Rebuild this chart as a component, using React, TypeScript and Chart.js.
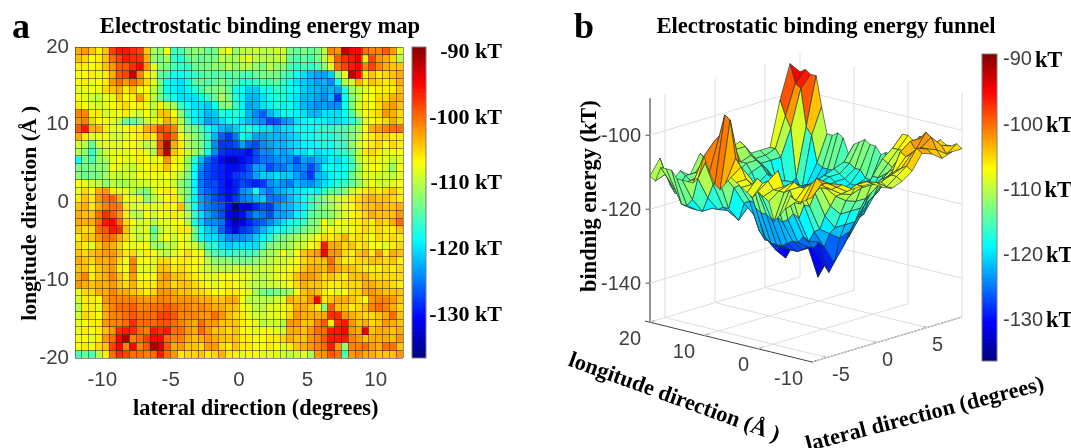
import React, { useEffect, useRef } from "react";
import { Chart, registerables, ScatterController } from "chart.js";

Chart.register(...registerables);

// ---------- data ----------
// Binding energy magnitude (-kT). Rows run from longitude +20 down to -20, columns from lateral -12 to +12.
const energyMagnitude: number[][] = [
  [103,102,104,106,104,98,96,96,97,98,104,111, 112,107,116,115,113,112,112,114,113,109,107,112, 110,110,109,110,110,109,109,113,114,113,114,113, 110,101,102,92,95,95,100,101,101,99,102,108],
  [104,105,107,106,104,100,98,96,97,97,103,112, 113,111,116,117,114,113,114,113,113,110,111,111, 109,108,110,110,110,110,109,114,115,114,115,113, 110,105,99,97,96,94,106,98,102,103,105,110],
  [106,106,107,106,104,102,99,99,97,95,102,108, 112,113,115,116,116,114,113,113,112,112,110,112, 110,110,112,113,110,112,112,115,116,115,116,115, 112,108,100,98,96,95,101,98,101,103,104,104],
  [107,107,106,108,106,103,99,98,92,101,106,108, 114,115,118,118,117,116,115,114,115,114,115,114, 115,115,114,113,113,113,115,116,118,120,122,123, 123,121,112,108,92,95,106,104,106,105,104,103],
  [107,106,108,107,106,102,100,102,100,102,105,108, 113,118,119,120,118,115,114,115,114,113,114,115, 117,117,116,115,115,114,116,118,120,121,122,123, 122,124,118,110,109,103,106,104,105,106,105,103],
  [108,108,107,108,105,104,103,106,104,107,107,110, 113,118,119,120,119,117,115,113,113,112,114,118, 118,121,121,118,118,116,117,118,119,121,122,122, 123,122,123,117,112,110,108,107,106,106,106,104],
  [107,108,109,110,108,108,104,107,106,102,106,110, 113,116,118,120,120,120,118,116,114,111,113,117, 119,122,122,120,118,117,117,119,120,122,122,123, 124,122,128,118,113,110,107,107,105,105,103,103],
  [106,107,108,109,108,107,106,105,107,106,108,110, 106,110,111,116,118,120,120,121,118,113,112,116, 119,123,122,120,119,117,119,118,120,122,123,124, 123,124,124,118,113,109,106,107,105,103,102,104],
  [101,101,106,106,109,108,107,106,108,109,107,110, 104,104,107,112,117,119,120,122,121,117,118,117, 118,122,124,126,122,120,118,118,119,120,122,122, 120,120,120,118,115,110,107,106,105,102,103,105],
  [102,101,105,107,107,108,110,114,114,112,109,108, 106,103,105,110,115,119,120,123,122,120,118,118, 120,122,123,124,127,127,124,123,120,119,118,119, 119,120,120,119,117,114,108,107,106,105,103,105],
  [99,96,103,103,106,108,108,107,106,106,103,102, 98,99,101,109,112,113,115,118,120,122,123,121, 118,117,119,120,120,122,120,120,118,118,118,117, 116,116,115,115,113,111,107,103,102,101,100,100],
  [103,106,108,108,107,109,109,108,107,106,105,106, 100,97,100,107,110,112,114,117,122,126,128,125, 118,120,123,123,122,122,122,121,120,118,118,117, 117,117,116,115,113,110,107,106,105,105,106,106],
  [109,110,114,109,108,108,108,107,107,108,110,109, 99,91,103,106,110,112,113,117,124,128,128,127, 123,126,127,124,123,122,122,121,120,119,119,118, 117,118,116,116,112,109,107,106,105,107,105,106],
  [110,112,116,112,109,108,108,108,107,106,108,110, 100,92,104,106,109,111,113,118,124,128,129,129, 129,130,127,124,124,122,123,122,120,120,118,120, 119,119,117,116,114,110,106,105,106,108,107,107],
  [118,113,115,112,111,108,107,108,108,106,107,108, 107,102,106,108,112,117,122,126,128,130,133,133, 130,129,127,125,125,124,123,124,127,123,124,122, 121,119,120,118,116,110,108,106,108,108,110,108],
  [113,113,113,112,112,107,108,109,110,108,107,106, 106,104,107,108,112,118,124,127,128,129,130,130, 129,127,123,123,127,125,125,123,125,124,127,124, 119,118,119,118,116,112,108,107,107,109,112,107],
  [112,114,113,113,111,109,110,109,109,107,108,107, 108,107,108,110,113,118,125,127,128,129,130,128, 127,126,123,121,121,120,121,121,123,125,128,122, 121,119,118,118,114,111,108,108,109,109,110,108],
  [107,108,109,110,112,110,111,111,110,109,109,108, 108,108,109,112,114,119,125,127,127,129,131,129, 127,128,129,128,124,123,124,125,122,123,124,122, 120,119,117,116,114,112,109,107,109,109,108,107],
  [108,105,107,103,102,106,108,108,110,112,113,109, 107,106,107,111,113,118,124,126,127,129,130,129, 124,123,118,123,125,123,122,121,120,119,118,119, 116,114,114,112,109,108,106,105,106,105,104,106],
  [106,104,106,102,100,99,103,107,108,108,112,110, 108,107,106,109,114,119,123,125,127,128,130,128, 125,124,122,121,125,125,124,122,120,118,116,114, 112,110,109,108,106,105,104,103,104,104,105,106],
  [104,103,106,103,101,100,101,106,109,108,108,108, 108,106,107,104,112,118,123,125,126,127,130,136, 131,132,129,127,128,124,122,122,120,119,116,114, 112,111,109,108,107,105,104,104,103,104,104,103],
  [103,104,104,100,97,99,102,106,110,110,107,109, 107,108,106,108,110,116,120,123,125,127,131,132, 130,127,124,125,127,123,123,122,119,118,114,113, 113,112,110,108,107,106,105,103,104,104,104,102],
  [103,103,103,100,96,95,100,105,107,109,108,110, 108,108,107,107,110,117,121,124,124,125,130,134, 131,129,127,126,124,122,120,118,117,116,113,112, 107,110,107,108,106,106,105,106,104,105,103,100],
  [104,105,105,100,99,96,97,104,109,109,108,115, 110,108,108,106,106,113,118,121,122,126,129,131, 128,127,125,122,120,118,118,116,115,113,112,111, 108,107,108,108,107,106,105,106,105,106,106,104],
  [106,104,104,102,100,100,103,105,108,110,108,113, 109,107,109,107,108,113,118,120,120,122,124,124, 124,123,121,119,117,114,113,112,111,110,109,107, 105,106,105,103,106,105,106,107,105,106,105,106],
  [105,106,108,104,102,103,105,107,108,107,107,111, 112,110,110,107,108,109,112,116,117,120,121,120, 120,120,120,116,113,112,112,111,109,109,107,106, 96,103,103,105,104,106,105,107,107,108,106,105],
  [104,105,104,103,102,102,104,106,105,108,106,107, 109,110,108,107,105,107,107,113,115,116,117,116, 115,116,115,112,111,110,107,110,107,104,103,102, 95,102,102,105,106,104,103,106,102,106,103,104],
  [103,104,105,103,103,102,105,107,101,107,107,108, 105,105,107,106,106,107,107,110,112,112,112,113, 113,113,112,111,110,109,109,108,107,105,104,104, 104,100,104,106,106,105,105,104,104,105,104,106],
  [104,104,106,104,103,102,106,107,101,108,108,108, 104,104,106,105,106,107,108,109,110,110,110,109, 109,109,110,109,109,108,108,107,106,104,103,103, 104,101,103,104,104,105,106,106,106,105,106,105],
  [103,101,106,104,103,101,104,106,102,107,107,107, 103,102,104,104,105,106,107,108,108,107,107,107, 108,108,109,110,109,108,107,106,104,102,102,103, 105,104,105,106,104,104,103,105,105,105,105,105],
  [102,103,104,103,103,102,104,105,103,106,106,106, 103,103,105,104,104,105,106,107,108,107,106,107, 108,109,110,110,109,109,108,107,105,103,104,104, 105,106,106,105,105,105,103,103,104,104,105,106],
  [108,105,105,103,103,101,103,103,104,105,106,105, 102,102,103,104,104,105,105,106,107,107,106,106, 107,108,111,113,114,113,112,111,107,104,103,104, 106,107,108,107,105,105,103,102,103,104,104,104],
  [109,106,106,107,102,101,101,101,101,102,102,102, 101,101,102,102,102,102,103,103,104,104,103,103, 107,110,110,110,110,109,108,103,104,104,102,95, 106,104,103,103,104,105,107,102,101,101,102,104],
  [110,106,106,108,103,101,100,100,99,101,101,100, 100,99,100,101,101,102,101,102,103,103,104,104, 107,108,110,110,108,108,107,106,103,103,104,106, 112,99,104,104,106,105,104,101,100,101,103,105],
  [109,105,106,107,103,101,101,100,99,100,100,100, 98,98,99,101,101,101,102,102,100,102,104,105, 106,108,109,109,108,108,107,105,102,103,103,103, 103,97,97,102,103,104,105,105,104,103,100,104],
  [108,107,106,106,102,101,101,100,97,100,100,100, 99,99,100,101,102,103,100,102,102,104,104,104, 106,107,108,110,109,109,110,102,102,104,104,101, 99,106,97,96,102,104,103,105,104,102,103,104],
  [108,106,107,106,104,102,97,96,97,100,101,96, 97,96,100,100,102,103,100,102,104,104,105,104, 107,107,108,107,107,108,109,103,103,104,102,100, 100,96,96,95,102,103,94,104,103,103,104,103],
  [107,107,108,106,102,100,95,91,101,100,98,95, 95,100,101,101,103,104,103,102,103,104,104,104, 106,106,107,107,106,106,105,103,104,104,102,101, 99,96,96,96,101,102,104,103,103,103,104,102],
  [107,106,107,105,104,98,95,101,95,101,99,91, 93,99,103,102,104,104,105,102,102,105,106,104, 106,106,107,107,106,107,108,106,104,103,102,101, 100,96,102,112,101,101,100,102,103,100,100,104],
  [115,114,115,110,106,100,97,98,100,100,101,100, 96,100,102,106,105,105,104,106,105,103,106,106, 108,107,107,108,108,108,109,110,109,108,111,102, 102,99,100,115,102,101,103,103,104,104,104,102],
];
const lateralTicks = [-10, -5, 0, 5, 10];
const longitudeTicks = [-20, -10, 0, 10, 20];
const colorbarTicks = [-90, -100, -110, -120, -130];
const funnelLongitudeTicks = [20, 10, 0, -10];
const funnelLateralTicks = [-5, 0, 5];
const funnelEnergyTicks = [-100, -120, -140];

const TITLE_A = "Electrostatic binding energy map";
const TITLE_B = "Electrostatic binding energy funnel";
const NB = "\u00a0";

// ---------- styling ----------
const SERIF = '"Liberation Serif"';
const SANS = '"Liberation Sans"';
const INK = "#3f3f3f";
const CM_MIN = -136.4;
const CM_MAX = -89;

function jet(value: number): string {
  const t = Math.min(1, Math.max(0, (value - CM_MIN) / (CM_MAX - CM_MIN)));
  const ch = (c: number) => Math.round(255 * Math.min(1, Math.max(0, 1.5 - Math.abs(4 * t - c))));
  return `rgb(${ch(3)},${ch(2)},${ch(1)})`;
}

const NC = 48;
const energyAt = (r: number, c: number) => -energyMagnitude[r][c];

// ---------- panel a cells ----------
const lateralBins = Array.from({ length: NC }, (_, c) => String(-12 + 0.5 * c));
const mapDatasets = energyMagnitude.map((row, r) => ({
  xAxisID: "xCat",
  yAxisID: "y",
  grouped: false,
  barPercentage: 1,
  categoryPercentage: 1,
  borderWidth: 0,
  data: row.map(() => [19 - r, 20 - r]),
  backgroundColor: row.map((_, c) => jet(energyAt(r, c))),
}));

// ---------- panel b projection (scene units are page units) ----------
const LAT_MIN = -6.5, LAT_MAX = 8.5, LON_MIN = -10, LON_MAX = 20, Z_FLOOR = -150.5, Z_TOP = -90;
const FIRST_COL = 11, COL_STEP = 2, N_LAT = 15, N_LON = 30;
function project(lat: number, lon: number, z: number) {
  const u = (lat - LAT_MIN) / (LAT_MAX - LAT_MIN);
  const v = (LON_MAX - lon) / (LON_MAX - LON_MIN);
  return { x: 650 + 150 * u + 162 * v, y: 322 - 45 * u + 40 * v - (z - Z_FLOOR) * 3.7 };
}
const meshEnergy = (i: number, j: number) => energyAt(i, FIRST_COL + j * COL_STEP);
const surfacePoints: { x: number; y: number }[] = [];
for (let i = 0; i <= N_LON; i++) {
  for (let j = 0; j <= N_LAT; j++) {
    surfacePoints.push(project(-12 + 0.5 * (FIRST_COL + j * COL_STEP), LON_MAX - i, meshEnergy(i, j)));
  }
}

class SurfaceController extends (ScatterController as any) {
  static id = "surface";
  static defaults = { dataElementType: "point", datasetElementType: false, showLine: false };
  draw() {
    const self = this as any;
    const ctx: CanvasRenderingContext2D = self.chart.ctx;
    const pts = self.getMeta().data;
    const W = N_LAT + 1;
    ctx.save();
    ctx.lineJoin = "round";
    ctx.lineWidth = 0.8;
    ctx.strokeStyle = "rgba(35,50,50,0.8)";
    // painter's order: far corner (high longitude, high lateral) first
    for (let i = 0; i < N_LON; i++) {
      for (let j = N_LAT - 1; j >= 0; j--) {
        const a = pts[i * W + j], b = pts[i * W + j + 1], d = pts[(i + 1) * W + j + 1], e = pts[(i + 1) * W + j];
        const mean = (meshEnergy(i, j) + meshEnergy(i, j + 1) + meshEnergy(i + 1, j) + meshEnergy(i + 1, j + 1)) / 4;
        ctx.beginPath();
        ctx.moveTo(a.x, a.y);
        ctx.lineTo(b.x, b.y);
        ctx.lineTo(d.x, d.y);
        ctx.lineTo(e.x, e.y);
        ctx.closePath();
        ctx.fillStyle = jet(mean);
        ctx.fill();
        ctx.stroke();
      }
    }
    ctx.restore();
  }
}
Chart.register(SurfaceController as any);

function seg(p: { x: number; y: number }, q: { x: number; y: number }, color: string, width: number) {
  return { type: "scatter", showLine: true, pointRadius: 0, borderColor: color, borderWidth: width, data: [p, q] };
}
function funnelAxes() {
  const out: any[] = [];
  const G = "#dddddd";
  for (const lat of funnelLateralTicks) {
    out.push(seg(project(lat, LON_MAX, Z_FLOOR), project(lat, LON_MAX, Z_TOP), G, 1));
    out.push(seg(project(lat, LON_MAX, Z_FLOOR), project(lat, LON_MIN, Z_FLOOR), G, 1));
  }
  for (const lon of funnelLongitudeTicks) {
    out.push(seg(project(LAT_MAX, lon, Z_FLOOR), project(LAT_MAX, lon, Z_TOP), G, 1));
    out.push(seg(project(LAT_MIN, lon, Z_FLOOR), project(LAT_MAX, lon, Z_FLOOR), G, 1));
  }
  for (const z of funnelEnergyTicks) {
    out.push(seg(project(LAT_MIN, LON_MAX, z), project(LAT_MAX, LON_MAX, z), G, 1));
    out.push(seg(project(LAT_MAX, LON_MAX, z), project(LAT_MAX, LON_MIN, z), G, 1));
    const p = project(LAT_MIN, LON_MAX, z);
    out.push(seg(p, { x: p.x - 4.5, y: p.y }, "#555555", 1));
  }
  const A = project(LAT_MIN, LON_MAX, Z_FLOOR);
  const B = project(LAT_MIN, LON_MIN, Z_FLOOR);
  const C = project(LAT_MAX, LON_MIN, Z_FLOOR);
  out.push(seg(A, project(LAT_MIN, LON_MAX, Z_TOP), "#6e6e6e", 1.5));
  out.push(seg({ x: A.x - 5, y: A.y - 1 }, B, "#404040", 1));
  out.push(seg(B, C, "#404040", 1));
  for (const lon of funnelLongitudeTicks) {
    const p = project(LAT_MIN, lon, Z_FLOOR);
    out.push(seg(p, { x: p.x + 5, y: p.y - 1.5 }, "#404040", 1));
  }
  for (const lat of funnelLateralTicks) {
    const p = project(lat, LON_MIN, Z_FLOOR);
    out.push(seg(p, { x: p.x - 5, y: p.y - 1.2 }, "#404040", 1));
  }
  return out;
}

const framePlugin = {
  id: "frame",
  afterDraw(chart: any) {
    const { ctx, chartArea: a } = chart;
    ctx.save();
    ctx.strokeStyle = "#7d7d7d";
    ctx.lineWidth = 1;
    ctx.strokeRect(a.left, a.top, a.right - a.left, a.bottom - a.top);
    ctx.restore();
  },
};

function colorbarConfig(pad: any, axisWidth: number, min: number, max: number, tickFont: any, padding: number, crossAlign: string, tickColor: string, plugins: any[], label: (v: number) => string) {
  const LEVELS = 128;
  const step = (CM_MAX - CM_MIN) / LEVELS;
  const datasets = Array.from({ length: LEVELS }, (_, k) => ({
    grouped: false,
    barPercentage: 1,
    categoryPercentage: 1,
    borderWidth: 0,
    data: [[CM_MIN + k * step - 2 * (k === 0 ? 1 : 0), CM_MIN + (k + 1) * step + 2 * (k === LEVELS - 1 ? 1 : 0)]],
    backgroundColor: jet(CM_MIN + (k + 0.5) * step),
  }));
  return {
    type: "bar",
    data: { labels: ["kT"], datasets },
    plugins: [framePlugin, ...plugins],
    options: {
      animation: false,
      responsive: false,
      devicePixelRatio: 1,
      events: [],
      layout: { padding: pad },
      plugins: { legend: { display: false }, tooltip: { enabled: false }, title: { display: false } },
      scales: {
        x: { display: false },
        y: {
          position: "right",
          min,
          max,
          grid: { display: false, drawTicks: false },
          border: { display: false },
          afterBuildTicks: (s: any) => { s.ticks = colorbarTicks.map((value) => ({ value })); },
          afterFit: (s: any) => { s.width = axisWidth; },
          ticks: { font: tickFont, color: tickColor, padding, crossAlign, callback: (v: any) => label(Number(v)) },
        },
      },
    },
  } as any;
}

export default function App() {
  const mapRef = useRef<HTMLCanvasElement>(null);
  const barARef = useRef<HTMLCanvasElement>(null);
  const funnelRef = useRef<HTMLCanvasElement>(null);
  const barBRef = useRef<HTMLCanvasElement>(null);

  useEffect(() => {
    const titleFont = { family: SERIF, size: 22.6, weight: "bold" as const };
    const axisTitleFont = { family: SERIF, size: 22.4, weight: "bold" as const };
    const tickFont = { family: SANS, size: 20.5 };

    const letterA = {
      id: "letterA",
      afterDraw(chart: any) {
        const { ctx } = chart;
        ctx.save();
        ctx.font = `bold 36px ${SERIF}`;
        ctx.fillStyle = "#000";
        ctx.textBaseline = "alphabetic";
        ctx.fillText("a", 12, 38);
        ctx.restore();
      },
    };

    const mapChart = new Chart(mapRef.current!, {
      type: "bar",
      data: { labels: lateralBins, datasets: mapDatasets },
      plugins: [letterA],
      options: {
        animation: false,
        responsive: false,
        devicePixelRatio: 1,
        events: [],
        plugins: {
          legend: { display: false },
          tooltip: { enabled: false },
          title: { display: true, text: TITLE_A, color: "#000", font: titleFont, padding: { top: 13.5, bottom: 6.5 } },
        },
        scales: {
          xCat: { axis: "x", type: "category", display: false, offset: true, stacked: false },
          x: {
            type: "linear",
            position: "bottom",
            min: -12,
            max: 12,
            offset: false,
            grid: { offset: false, z: 1, color: "rgba(25,35,30,0.5)", lineWidth: 1, drawTicks: false },
            border: { display: false },
            afterFit: (s: any) => { s.height = 90; },
            title: { display: true, text: NB.repeat(6) + "lateral direction (degrees)", color: "#000", font: axisTitleFont, padding: { bottom: 25 } },
            ticks: {
              stepSize: 0.5,
              autoSkip: false,
              maxRotation: 0,
              minRotation: 0,
              color: INK,
              font: tickFont,
              padding: 10,
              callback: (v: any) => (lateralTicks.includes(Number(v)) ? String(v) : ""),
            },
          },
          y: {
            position: "left",
            min: -20,
            max: 20,
            grid: { z: 1, color: "rgba(25,35,30,0.5)", lineWidth: 1, drawTicks: false },
            border: { display: false },
            afterFit: (s: any) => { s.width = 75; },
            title: { display: true, text: "longitude direction (\u00c5 )" + NB.repeat(4), color: "#000", font: { family: SERIF, size: 21.6, weight: "bold" }, padding: { top: 17 } },
            ticks: {
              stepSize: 1,
              autoSkip: false,
              color: INK,
              font: tickFont,
              padding: 6,
              callback: (v: any) => (longitudeTicks.includes(Number(v)) ? String(v) : ""),
            },
          },
          yR: {
            axis: "y",
            position: "right",
            min: 0,
            max: 1,
            grid: { display: false },
            border: { display: false },
            ticks: { display: false },
            afterFit: (s: any) => { s.width = 117; },
          },
        },
      } as any,
    } as any);

    const barA = new Chart(
      barARef.current!,
      colorbarConfig({ left: 7, top: 47, right: 13, bottom: 90 }, 76, -136.5, -89.2, { family: SERIF, size: 22, weight: "bold" }, 3, "far", "#000", [], (v) => `${v} kT`)
    );

    const funnelText = {
      id: "funnelText",
      afterDraw(chart: any) {
        const { ctx, scales } = chart;
        const px = (p: { x: number; y: number }) => ({ x: scales.x.getPixelForValue(p.x), y: scales.y.getPixelForValue(p.y) });
        ctx.save();
        ctx.textBaseline = "middle";
        ctx.fillStyle = INK;
        ctx.font = `20px ${SANS}`;
        ctx.textAlign = "right";
        for (const z of funnelEnergyTicks) {
          const p = px(project(LAT_MIN, LON_MAX, z));
          ctx.fillText(String(z), p.x - 9, p.y + 1);
        }
        for (const lon of funnelLongitudeTicks) {
          const p = px(project(LAT_MIN, lon, Z_FLOOR));
          ctx.fillText(String(lon), p.x - 9, p.y + 17);
        }
        ctx.textAlign = "left";
        for (const lat of funnelLateralTicks) {
          const p = px(project(lat, LON_MIN, Z_FLOOR));
          ctx.fillText(String(lat), p.x + 5, p.y + 18);
        }
        ctx.fillStyle = "#000";
        ctx.textAlign = "center";
        ctx.font = `bold 22.4px ${SERIF}`;
        const rotated = (text: string, sx: number, sy: number, deg: number) => {
          const p = px({ x: sx, y: sy });
          ctx.save();
          ctx.translate(p.x, p.y);
          ctx.rotate((deg * Math.PI) / 180);
          ctx.fillText(text, 0, 0);
          ctx.restore();
        };
        rotated("bindnig energy (kT)", 590, 196, -90);
        rotated("longitude direction (\u00c5 )", 674, 398, 20);
        rotated("lateral direction (degrees)", 925, 415, -14.5);
        ctx.textAlign = "left";
        ctx.textBaseline = "alphabetic";
        ctx.font = `bold 36px ${SERIF}`;
        const q = px({ x: 574, y: 38 });
        ctx.fillText("b", q.x, q.y);
        ctx.restore();
      },
    };

    const funnel = new Chart(funnelRef.current!, {
      type: "scatter",
      data: {
        datasets: [
          { type: "surface", data: surfacePoints, pointRadius: 0 },
          ...funnelAxes(),
        ],
      },
      plugins: [funnelText],
      options: {
        animation: false,
        responsive: false,
        devicePixelRatio: 1,
        events: [],
        clip: false,
        plugins: {
          legend: { display: false },
          tooltip: { enabled: false },
          title: { display: true, text: TITLE_B, color: "#000", font: titleFont, padding: { top: 13.5, bottom: 6.5 } },
        },
        scales: {
          x: { type: "linear", display: false, min: 560, max: 1092 },
          y: { type: "linear", display: false, min: 47, max: 448, reverse: true },
        },
      } as any,
    } as any);

    const kT = {
      id: "kT",
      afterDraw(chart: any) {
        const { ctx, scales } = chart;
        ctx.save();
        ctx.textBaseline = "middle";
        for (const v of colorbarTicks) {
          ctx.font = `20px ${SANS}`;
          const w = ctx.measureText(String(v)).width;
          ctx.font = `bold 22.4px ${SERIF}`;
          ctx.fillStyle = "#000";
          ctx.fillText("kT", chart.chartArea.right + 6 + w + 3, scales.y.getPixelForValue(v) + 1.5);
        }
        ctx.restore();
      },
    };
    const barB = new Chart(
      barBRef.current!,
      colorbarConfig({ left: 7, top: 54, right: 0, bottom: 87 }, 74, -136.3, -89.08, { family: SANS, size: 20 }, 6, "near", INK, [kT], (v) => String(v))
    );

    return () => {
      mapChart.destroy();
      barA.destroy();
      funnel.destroy();
      barB.destroy();
    };
  }, []);

  const at = (left: number, zIndex: number): React.CSSProperties => ({ position: "absolute", left, top: 0, zIndex, filter: "blur(0.35px)" });
  return (
    <div style={{ position: "absolute", left: 0, top: 0, width: 1071, height: 448, overflow: "hidden", background: "#fff" }}>
      <canvas ref={mapRef} width={520} height={448} style={at(0, 1)} />
      <canvas ref={barARef} width={110} height={448} style={at(405, 2)} />
      <canvas ref={funnelRef} width={532} height={448} style={at(560, 3)} />
      <canvas ref={barBRef} width={96} height={448} style={at(975, 4)} />
    </div>
  );
}
